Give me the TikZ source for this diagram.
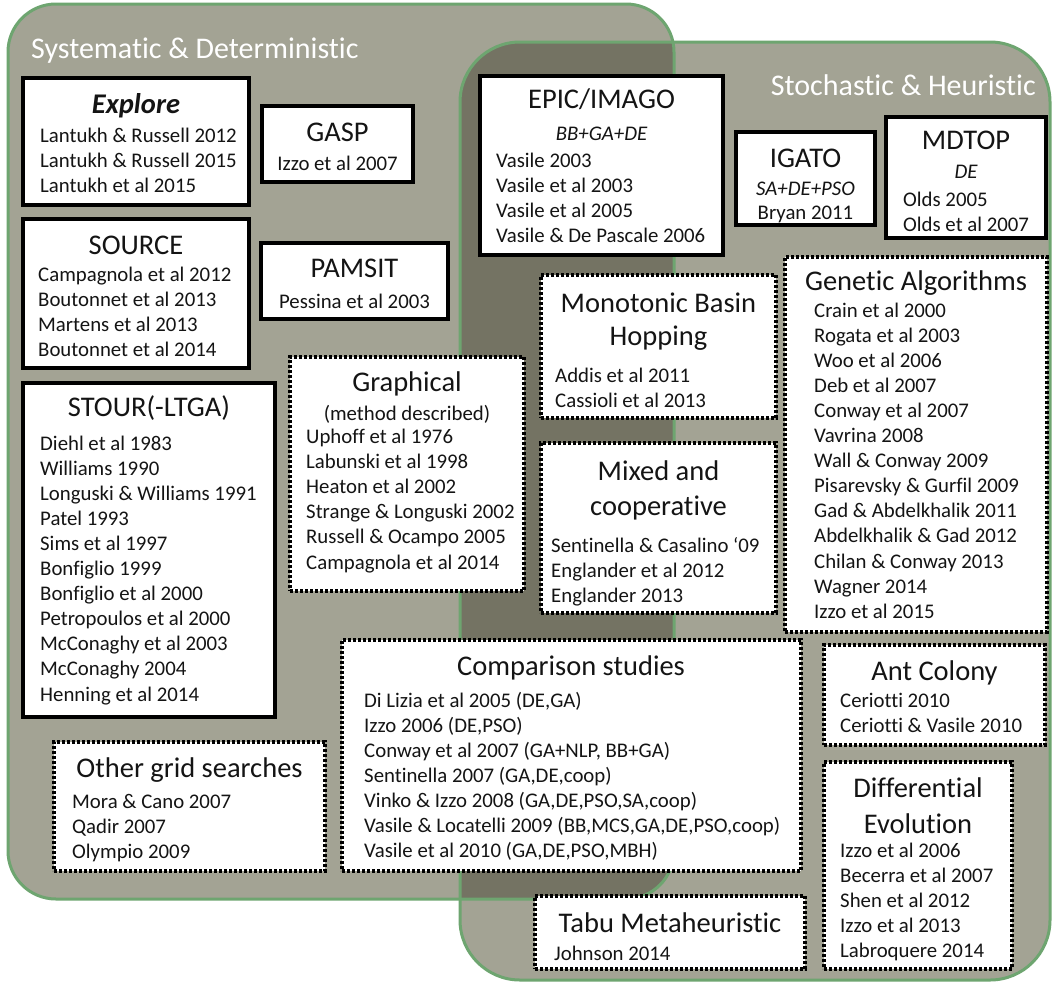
\documentclass[tikz,border=0pt]{standalone}
\usepackage{fontspec}
\setmainfont{Carlito}[Ligatures=NoCommon]
\definecolor{panel}{RGB}{163,163,148}
\definecolor{overlap}{RGB}{116,115,99}
\definecolor{rim}{RGB}{110,165,112}
\definecolor{ink}{RGB}{20,20,20}
\begin{document}
\begin{tikzpicture}[x=1pt,y=-1pt,
  solidbox/.style={draw=black,line width=4pt,fill=white,inner sep=0pt,outer sep=0pt,anchor=north west},
  dotbox/.style={draw=black,line width=3.5pt,fill=white,dash pattern=on 3pt off 2pt,inner sep=0pt,outer sep=0pt,anchor=north west},
  ttl/.style={inner sep=0pt,anchor=base,text=ink,font=\fontsize{28.5}{34}\selectfont},
  sub/.style={inner sep=0pt,anchor=base,text=ink,font=\fontsize{20.8}{25}\selectfont\itshape},
  ent/.style={inner sep=0pt,anchor=base west,text=ink,font=\fontsize{20.8}{25}\selectfont},
  entc/.style={inner sep=0pt,anchor=base,text=ink,font=\fontsize{20.8}{25}\selectfont},
  head/.style={inner sep=0pt,text=white,font=\fontsize{30}{35}\selectfont},
  rimline/.style={draw=rim,line width=3pt}]
\useasboundingbox (0,0) rectangle (1054,985);
\fill[white] (0,0) rectangle (1054,985);
% regions
\fill[panel,rounded corners=48pt] (8,4) rectangle (674,899);
\fill[panel,rounded corners=60pt] (460,42) rectangle (1050,980);
\begin{scope}
\clip[rounded corners=48pt] (8,4) rectangle (674,899);
\fill[overlap,rounded corners=60pt] (460,42) rectangle (1050,980);
\end{scope}
\draw[rimline,rounded corners=48pt] (8,4) rectangle (674,899);
\draw[rimline,rounded corners=60pt] (460,42) rectangle (1050,980);
\node[head,anchor=base west] (sysdet) at (31,58) {Systematic \& Deterministic};
\node[head,anchor=base east] (stoch) at (1036,95) {Stochastic \& Heuristic};

% Explore
\node[solidbox,minimum width=226pt,minimum height=127pt] (explore) at (23,78) {};
\node[ttl,font=\fontsize{28.5}{34}\selectfont\bfseries\itshape] (explore-t) at (136,113) {Explore};
\foreach \t [count=\i from 0] in {Lantukh \& Russell 2012,Lantukh \& Russell 2015,Lantukh et al 2015}
  \node[ent] (explore-\i) at (40,142+25.2*\i) {\t};

% GASP
\node[solidbox,minimum width=151pt,minimum height=76pt] (gasp) at (262,106) {};
\node[ttl] (gasp-t) at (337.5,141) {GASP};
\node[entc] (gasp-0) at (337.5,170) {Izzo et al 2007};

% SOURCE
\node[solidbox,minimum width=226pt,minimum height=149pt] (source) at (23,219) {};
\node[ttl] (source-t) at (136,254) {SOURCE};
\foreach \t [count=\i from 0] in {Campagnola et al 2012,Boutonnet et al 2013,Martens et al 2013,Boutonnet et al 2014}
  \node[ent] (source-\i) at (38,281+25.2*\i) {\t};

% PAMSIT
\node[solidbox,minimum width=187pt,minimum height=76pt] (pamsit) at (261,243) {};
\node[ttl] (pamsit-t) at (354.5,277) {PAMSIT};
\node[entc] (pamsit-0) at (354.5,308) {Pessina et al 2003};

% STOUR
\node[solidbox,minimum width=252pt,minimum height=334pt] (stour) at (23,383) {};
\node[ttl] (stour-t) at (149,416) {STOUR(-LTGA)};
\foreach \t [count=\i from 0] in {Diehl et al 1983,Williams 1990,Longuski \& Williams 1991,Patel 1993,Sims et al 1997,Bonfiglio 1999,Bonfiglio et al 2000,Petropoulos et al 2000,McConaghy et al 2003,McConaghy 2004,Henning et al 2014}
  \node[ent] (stour-\i) at (40,450.5+25.05*\i) {\t};

% Graphical
\node[dotbox,minimum width=234pt,minimum height=234pt] (graph) at (290,357) {};
\node[ttl] (graph-t) at (407,391) {Graphical};
\node[entc] (graph-s) at (407,420) {(method described)};
\foreach \t [count=\i from 0] in {Uphoff et al 1976,Labunski et al 1998,Heaton et al 2002,Strange \& Longuski 2002,Russell \& Ocampo 2005,Campagnola et al 2014}
  \node[ent] (graph-\i) at (306,443+25.2*\i) {\t};

% Other grid searches
\node[dotbox,minimum width=271pt,minimum height=129pt] (grid) at (54,742) {};
\node[ttl] (grid-t) at (189.5,777) {Other grid searches};
\foreach \t [count=\i from 0] in {Mora \& Cano 2007,Qadir 2007,Olympio 2009}
  \node[ent] (grid-\i) at (72,808+25.2*\i) {\t};

% EPIC/IMAGO
\node[solidbox,minimum width=243pt,minimum height=179pt] (epic) at (480,76) {};
\node[ttl] (epic-t) at (601.5,108) {EPIC/IMAGO};
\node[sub] (epic-s) at (601.5,140) {BB+GA+DE};
\foreach \t [count=\i from 0] in {Vasile 2003,Vasile et al 2003,Vasile et al 2005,Vasile \& De Pascale 2006}
  \node[ent] (epic-\i) at (496,167+25.2*\i) {\t};

% IGATO
\node[solidbox,minimum width=139pt,minimum height=93pt] (igato) at (736,132) {};
\node[ttl] (igato-t) at (805.5,167) {IGATO};
\node[sub] (igato-s) at (805.5,195) {SA+DE+PSO};
\node[entc] (igato-0) at (805.5,219) {Bryan 2011};

% MDTOP
\node[solidbox,minimum width=160pt,minimum height=121pt] (mdtop) at (886,117) {};
\node[ttl] (mdtop-t) at (966,149) {MDTOP};
\node[sub] (mdtop-s) at (966,178) {DE};
\foreach \t [count=\i from 0] in {Olds 2005,Olds et al 2007}
  \node[ent] (mdtop-\i) at (903,206+25.2*\i) {\t};

% Monotonic Basin Hopping
\node[dotbox,minimum width=235pt,minimum height=143pt] (mbh) at (541,275) {};
\node[ttl] (mbh-t1) at (658.5,312) {Monotonic Basin};
\node[ttl] (mbh-t2) at (658.5,345) {Hopping};
\foreach \t [count=\i from 0] in {Addis et al 2011,Cassioli et al 2013}
  \node[ent] (mbh-\i) at (555,382+25.2*\i) {\t};

% Mixed and cooperative
\node[dotbox,minimum width=235pt,minimum height=170pt] (mixed) at (541,443) {};
\node[ttl] (mixed-t1) at (658.5,480) {Mixed and};
\node[ttl] (mixed-t2) at (658.5,515) {cooperative};
\foreach \t [count=\i from 0] in {Sentinella \& Casalino ‘09,Englander et al 2012,Englander 2013}
  \node[ent] (mixed-\i) at (551,552+25.2*\i) {\t};

% Genetic Algorithms
\node[dotbox,minimum width=262pt,minimum height=375pt] (ga) at (785,257) {};
\node[ttl] (ga-t) at (916,290) {Genetic Algorithms};
\foreach \t [count=\i from 0] in {Crain et al 2000,Rogata et al 2003,Woo et al 2006,Deb et al 2007,Conway et al 2007,Vavrina 2008,Wall \& Conway 2009,Pisarevsky \& Gurfil 2009,Gad \& Abdelkhalik 2011,Abdelkhalik \& Gad 2012,Chilan \& Conway 2013,Wagner 2014,Izzo et al 2015}
  \node[ent] (ga-\i) at (814,317+25.1*\i) {\t};

% Comparison studies
\node[dotbox,minimum width=459pt,minimum height=231pt] (comp) at (342,640) {};
\node[ttl] (comp-t) at (571,675) {Comparison studies};
\foreach \t [count=\i from 0] in {{Di Lizia et al 2005 (DE,GA)},{Izzo 2006 (DE,PSO)},{Conway et al 2007 (GA+NLP, BB+GA)},{Sentinella 2007 (GA,DE,coop)},{Vinko \& Izzo  2008 (GA,DE,PSO,SA,coop)},{Vasile \& Locatelli 2009 (BB,MCS,GA,DE,PSO,coop)},{Vasile et al 2010 (GA,DE,PSO,MBH)}}
  \node[ent] (comp-\i) at (364,707+25*\i) {\t};

% Ant Colony
\node[dotbox,minimum width=221pt,minimum height=100pt] (ant) at (824,645) {};
\node[ttl] (ant-t) at (934.5,680) {Ant Colony};
\foreach \t [count=\i from 0] in {Ceriotti 2010,Ceriotti \& Vasile 2010}
  \node[ent] (ant-\i) at (840,707+25.2*\i) {\t};

% Differential Evolution
\node[dotbox,minimum width=188pt,minimum height=207pt] (de) at (824,762) {};
\node[ttl] (de-t1) at (918,797) {Differential};
\node[ttl] (de-t2) at (918,833) {Evolution};
\foreach \t [count=\i from 0] in {Izzo et al 2006,Becerra et al 2007,Shen et al 2012,Izzo et al 2013,Labroquere 2014}
  \node[ent] (de-\i) at (840,857+25*\i) {\t};

% Tabu
\node[dotbox,minimum width=270pt,minimum height=73pt] (tabu) at (535,896) {};
\node[ttl] (tabu-t) at (670,932) {Tabu Metaheuristic};
\node[ent] (tabu-0) at (554,960) {Johnson 2014};
\end{tikzpicture}
\end{document}
